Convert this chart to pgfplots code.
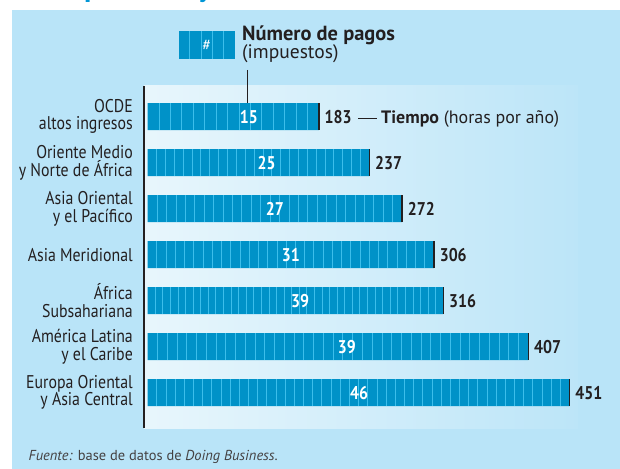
\documentclass[border=0pt]{standalone}
\usepackage{pgfplots}
\pgfplotsset{compat=1.18}
\usepackage{pgfplotstable}
\usepackage{fontspec}
\setmainfont{PT Sans}
\newfontfamily\cond[FakeStretch=0.86]{PT Sans}
\definecolor{panel}{RGB}{185,228,248}
\definecolor{barblue}{RGB}{0,146,200}
\definecolor{stripe}{RGB}{60,190,235}
\definecolor{plotleft}{RGB}{232,246,252}
\definecolor{plotright}{RGB}{188,229,248}
\definecolor{ink}{RGB}{35,31,32}
\definecolor{titleblue}{RGB}{0,150,214}
\newcommand\lbl{\cond\fontsize{18.5}{17.5}\selectfont}
\newcommand\num{\cond\bfseries\fontsize{18.5}{17.5}\selectfont}

% idx: row, T: hours per year, N: number of payments, L: position of the payments label
\pgfplotstableread{
idx T N L
0 183 15 108
1 237 25 127
2 272 27 136
3 306 31 153
4 316 39 163
5 407 39 213
6 451 46 226
}\datatable

\begin{document}
\begin{tikzpicture}[x=1bp,y=1bp]
\useasboundingbox (0,0) rectangle (620,469);
\fill[white] (0,0) rectangle (620,469);
\fill[panel] (12,0) rectangle (620,459);
\begin{scope}
\clip (0,459) rectangle (620,469);
\node[anchor=base west, inner sep=0, text=titleblue, font=\bfseries\fontsize{30}{30}\selectfont] at (84,472) {p};
\node[anchor=base west, inner sep=0, text=titleblue, font=\bfseries\fontsize{30}{30}\selectfont] at (198,472) {y};
\end{scope}

\begin{axis}[
  at={(361bp,212bp)}, anchor=center, scale only axis,
  width=434bp, height=342bp,
  xmin=-4, xmax=460, ymin=-0.667, ymax=6.77, y dir=reverse,
  axis x line=none, axis y line*=left,
  axis line style={ink, line width=1.5bp},
  ytick={0,...,6},
  yticklabels={{OCDE\\altos ingresos},{Oriente Medio\\y Norte de África},{Asia Oriental\\y el Pacífico},{Asia Meridional},{África\\Subsahariana},{América Latina\\y el Caribe},{Europa Oriental\\y Asia Central}},
  major tick length=0,
  yticklabel style={align=right, font=\lbl, text=ink, inner sep=0pt, xshift=-11bp},
  axis background/.style={left color=plotleft, right color=plotright},
  clip=false,
]
\addplot[xbar, fill=barblue, draw=none, bar width=0.587] table[x=T, y=idx] {\datatable};

\pgfplotstablegetrowsof{\datatable}
\pgfmathtruncatemacro\nrows{\pgfplotsretval-1}
\foreach \r in {0,...,\nrows}{
  \pgfplotstablegetelem{\r}{T}\of\datatable \let\T\pgfplotsretval
  \pgfplotstablegetelem{\r}{N}\of\datatable \let\N\pgfplotsretval
  \pgfmathtruncatemacro\Nm{\N-1}
  \pgfmathsetmacro\ylo{\r-0.2935}
  \pgfmathsetmacro\yhi{\r+0.2935}
  \pgfmathsetmacro\seg{\T/\N}
  \foreach \k in {1,...,\Nm}{
    \pgfmathsetmacro\xx{\seg*\k}
    \edef\temp{\noexpand\draw[stripe, line width=1bp] (axis cs:\xx,\ylo) -- (axis cs:\xx,\yhi);}
    \temp
  }
}

\addplot[only marks, mark=|, mark size=13.5bp, mark options={draw=ink, line width=1.6bp},
  point meta=explicit symbolic, nodes near coords={\pgfplotspointmeta},
  nodes near coords style={anchor=west, xshift=3bp, font=\num, text=ink, inner sep=2bp}]
  table[x=T, y=idx, meta=T] {\datatable};

\addplot[only marks, mark=none,
  point meta=explicit symbolic, nodes near coords={\pgfplotspointmeta},
  nodes near coords style={anchor=center, font=\num, text=white}]
  table[x=L, y=idx, meta=N] {\datatable};
\end{axis}

% legend
\fill[barblue] (178.5,410) rectangle (235,438);
\foreach \s in {1,...,4} \draw[stripe, line width=1bp] (178.5+\s*11.3,410) -- ++(0,28);
\node[text=white, font=\fontsize{16}{16}\selectfont] at (206.7,424) {\#};
\node[anchor=base west, inner sep=0, text=ink, font=\bfseries\fontsize{20.5}{20}\selectfont] at (242,428.3) {Número de pagos};
\node[anchor=base west, inner sep=0, text=ink, font=\fontsize{19.6}{19}\selectfont] at (242,410.7) {(impuestos)};
\draw[ink, line width=0.8bp] (247.3,399) -- (247.3,366);

\draw[ink, line width=0.9bp] (358,351) -- (377,351);
\node[anchor=base west, inner sep=0, text=ink, font=\fontsize{18}{18}\selectfont] at (381,345) {\textbf{Tiempo} (horas por año)};

\node[anchor=base west, inner sep=0, text=ink!85, font=\fontsize{14.5}{15}\selectfont] at (28.5,8) {\textit{Fuente:} base de datos de \textit{Doing Business}.};
\end{tikzpicture}
\end{document}
